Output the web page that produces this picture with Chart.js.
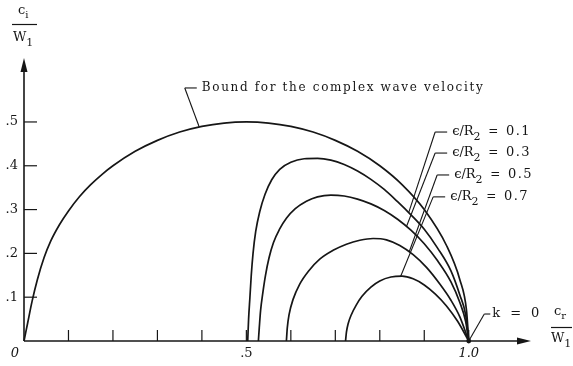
<!DOCTYPE html>
<html>
<head>
<meta charset="utf-8">
<script src="https://cdn.jsdelivr.net/npm/chart.js@4.4.0/dist/chart.umd.min.js"></script>
<style>
  html, body { margin: 0; padding: 0; background: #fff; }
  #wrap { width: 573px; height: 366px; }
</style>
</head>
<body>
<div id="wrap"><canvas id="canvas"></canvas></div>
<script>
// c_r/W1 (x) against c_i/W1 (y)
const boundX = [0, 0.008, 0.018, 0.03, 0.045, 0.06, 0.08, 0.1, 0.125, 0.15, 0.175, 0.2, 0.25, 0.3, 0.35, 0.4, 0.45, 0.5, 0.55, 0.6, 0.65, 0.7, 0.75, 0.8, 0.85, 0.9, 0.95, 0.98, 0.995, 1.0];
const boundY = [0, 0.04, 0.09, 0.14, 0.19, 0.228, 0.266, 0.297, 0.33, 0.357, 0.38, 0.40, 0.433, 0.458, 0.477, 0.49, 0.4975, 0.50, 0.4975, 0.49, 0.477, 0.458, 0.433, 0.40, 0.357, 0.30, 0.218, 0.14, 0.07, 0];

const eps1X = [0.503, 0.505, 0.508, 0.511, 0.515, 0.521, 0.53, 0.542, 0.557, 0.575, 0.6, 0.63, 0.66, 0.69, 0.72, 0.75, 0.78, 0.81, 0.84, 0.87, 0.9, 0.93, 0.96, 0.98, 0.993, 1.0];
const eps1Y = [0, 0.05, 0.10, 0.15, 0.20, 0.25, 0.295, 0.335, 0.368, 0.392, 0.408, 0.416, 0.417, 0.413, 0.403, 0.388, 0.369, 0.346, 0.318, 0.288, 0.255, 0.212, 0.16, 0.105, 0.06, 0];

const eps3X = [0.527, 0.529, 0.532, 0.537, 0.543, 0.551, 0.561, 0.574, 0.59, 0.61, 0.635, 0.66, 0.69, 0.72, 0.75, 0.78, 0.81, 0.84, 0.87, 0.9, 0.93, 0.96, 0.98, 0.993, 1.0];
const eps3Y = [0, 0.03, 0.07, 0.11, 0.15, 0.19, 0.225, 0.254, 0.28, 0.302, 0.319, 0.329, 0.333, 0.331, 0.324, 0.313, 0.298, 0.278, 0.253, 0.222, 0.183, 0.135, 0.088, 0.045, 0];

const eps5X = [0.59, 0.592, 0.596, 0.605, 0.62, 0.64, 0.665, 0.695, 0.725, 0.755, 0.785, 0.815, 0.845, 0.875, 0.905, 0.935, 0.96, 0.98, 1.0];
const eps5Y = [0, 0.03, 0.06, 0.095, 0.13, 0.16, 0.187, 0.207, 0.221, 0.23, 0.234, 0.231, 0.218, 0.197, 0.168, 0.13, 0.093, 0.055, 0];

const eps7X = [0.723, 0.725, 0.729, 0.736, 0.747, 0.76, 0.78, 0.80, 0.825, 0.85, 0.875, 0.9, 0.925, 0.95, 0.975, 1.0];
const eps7Y = [0, 0.02, 0.04, 0.06, 0.082, 0.102, 0.123, 0.137, 0.146, 0.148, 0.142, 0.128, 0.107, 0.08, 0.045, 0];

const epsValues = ['0.1', '0.3', '0.5', '0.7'];
const xTickValues = [0.1, 0.2, 0.3, 0.4, 0.5, 0.6, 0.7, 0.8, 0.9, 1.0];
const xLabelValues = [0, 0.5, 1.0];
const xLabels = ['0', '.5', '1.0'];
const yTickValues = [0.1, 0.2, 0.3, 0.4, 0.5];
const yLabels = ['.1', '.2', '.3', '.4', '.5'];

const ink = '#161616';
const serif = '"DejaVu Serif", "Liberation Serif", serif';

// where each leader line starts (data units) and the x where it meets its curve
const epsCorner = [[0.9245, 0.477], [0.9245, 0.429], [0.929, 0.379], [0.92, 0.329]];
const epsHitX = [0.865, 0.86, 0.866, 0.847];

function series(xs, ys) {
  return {
    data: xs.map((v, i) => ({ x: v, y: ys[i] })),
    showLine: true,
    borderColor: ink,
    borderWidth: 1.7,
    pointRadius: 0,
    cubicInterpolationMode: 'monotone',
    fill: false,
    clip: false
  };
}

function yAt(xs, ys, xv) {
  for (let i = 1; i < xs.length; i++) {
    if (xv <= xs[i]) {
      const t = (xv - xs[i - 1]) / (xs[i] - xs[i - 1]);
      return ys[i - 1] + t * (ys[i] - ys[i - 1]);
    }
  }
  return ys[ys.length - 1];
}

// text with parts: [string, size, baseline shift, letter spacing]
function rich(ctx, parts, x, y) {
  let cx = x;
  parts.forEach(p => {
    ctx.font = p[1] + 'px ' + serif;
    ctx.letterSpacing = (p[3] || 0) + 'px';
    ctx.fillText(p[0], cx, y + (p[2] || 0));
    cx += ctx.measureText(p[0]).width;
  });
  ctx.letterSpacing = '0px';
  return cx - x;
}

function spaced(ctx, text, x, y, width) {
  ctx.letterSpacing = '0px';
  const w = ctx.measureText(text).width;
  ctx.letterSpacing = ((width - w) / (text.length - 1)) + 'px';
  ctx.fillText(text, x, y);
  ctx.letterSpacing = '0px';
}

function seg(ctx, x1, y1, x2, y2) {
  ctx.beginPath();
  ctx.moveTo(x1, y1);
  ctx.lineTo(x2, y2);
  ctx.stroke();
}

const figure = {
  id: 'figure',
  afterDatasetsDraw(chart) {
    const ctx = chart.ctx;
    const xs = chart.scales.x, ys = chart.scales.y;
    const px = v => xs.getPixelForValue(v);
    const py = v => ys.getPixelForValue(v);
    const x0 = px(0), y0 = py(0);
    const xEnd = px(xs.max), yTop = py(ys.max);

    ctx.save();
    ctx.strokeStyle = ink;
    ctx.fillStyle = ink;
    ctx.lineWidth = 1.6;

    // axes with arrow heads
    seg(ctx, x0, y0, xEnd - 8, y0);
    seg(ctx, x0, y0, x0, yTop + 8);
    ctx.beginPath();
    ctx.moveTo(xEnd, y0);
    ctx.lineTo(xEnd - 14, y0 - 3.5);
    ctx.lineTo(xEnd - 14, y0 + 3.5);
    ctx.closePath();
    ctx.fill();
    ctx.beginPath();
    ctx.moveTo(x0, yTop);
    ctx.lineTo(x0 - 3.5, yTop + 14);
    ctx.lineTo(x0 + 3.5, yTop + 14);
    ctx.closePath();
    ctx.fill();

    // tick marks
    ctx.lineWidth = 1.2;
    xTickValues.forEach(v => seg(ctx, px(v), y0, px(v), y0 - 11));
    yTickValues.forEach(v => seg(ctx, x0, py(v), x0 + 13, py(v)));

    // tick labels
    ctx.textBaseline = 'middle';
    ctx.font = '13px ' + serif;
    ctx.textAlign = 'right';
    yTickValues.forEach((v, i) => ctx.fillText(yLabels[i], x0 - 6, py(v)));
    ctx.textAlign = 'center';
    xLabelValues.forEach((v, i) => {
      const off = v === 0 ? -9 : 0;
      ctx.font = (v === 0 || v === 1 ? 'italic ' : '') + '13px ' + serif;
      ctx.fillText(xLabels[i], px(v) + off, y0 + 13);
    });
    ctx.textAlign = 'left';

    // axis titles
    rich(ctx, [['c', 13], ['i', 10, 4]], x0 - 6, 11);
    seg(ctx, x0 - 12, 24.5, x0 + 13, 24.5);
    rich(ctx, [['W', 13], ['1', 11, 5]], x0 - 11, 38);
    rich(ctx, [['c', 13], ['r', 10, 4]], 554, 312);
    seg(ctx, 551, 327.5, 572, 327.5);
    rich(ctx, [['W', 13], ['1', 11, 5]], 551, 339);

    // leader lines and labels
    ctx.lineWidth = 1.1;
    const bc = [px(0.3615), py(0.5776)];
    const bh = 0.394;
    seg(ctx, bc[0], bc[1], px(bh), py(yAt(boundX, boundY, bh)));
    seg(ctx, bc[0], bc[1], bc[0] + 12, bc[1]);
    ctx.font = '12px ' + serif;
    spaced(ctx, 'Bound for the complex wave velocity', bc[0] + 17, bc[1], 281);

    const curves = [[eps1X, eps1Y], [eps3X, eps3Y], [eps5X, eps5Y], [eps7X, eps7Y]];
    epsValues.forEach((val, i) => {
      const c = [px(epsCorner[i][0]), py(epsCorner[i][1])];
      const hx = epsHitX[i];
      seg(ctx, c[0], c[1], px(hx), py(yAt(curves[i][0], curves[i][1], hx)));
      seg(ctx, c[0], c[1], c[0] + 12, c[1]);
      rich(ctx, [['\u03f5/R', 13], ['2', 11, 5], ['  =  ', 12], [val, 13, 0, 1.5]], c[0] + 17, c[1]);
    });

    // k = 0 at the point (1, 0)
    const kc = [px(1.035), py(0.0616)];
    seg(ctx, kc[0], kc[1], px(1), py(0));
    seg(ctx, kc[0], kc[1], kc[0] + 6, kc[1]);
    ctx.font = '13px ' + serif;
    spaced(ctx, 'k = 0', kc[0] + 8, kc[1], 47);
    ctx.beginPath();
    ctx.arc(px(1), py(0), 2.4, 0, Math.PI * 2);
    ctx.fill();

    ctx.restore();
  }
};

new Chart(document.getElementById('canvas'), {
  type: 'scatter',
  data: {
    datasets: [
      series(boundX, boundY),
      series(eps1X, eps1Y),
      series(eps3X, eps3Y),
      series(eps5X, eps5Y),
      series(eps7X, eps7Y)
    ]
  },
  options: {
    responsive: true,
    maintainAspectRatio: false,
    animation: false,
    layout: { padding: { left: 24, right: 42, top: 58, bottom: 25 } },
    plugins: { legend: { display: false }, tooltip: { enabled: false } },
    scales: {
      x: { type: 'linear', display: false, min: 0, max: 1.14 },
      y: { type: 'linear', display: false, min: 0, max: 0.646 }
    }
  },
  plugins: [figure]
});
</script>
</body>
</html>
